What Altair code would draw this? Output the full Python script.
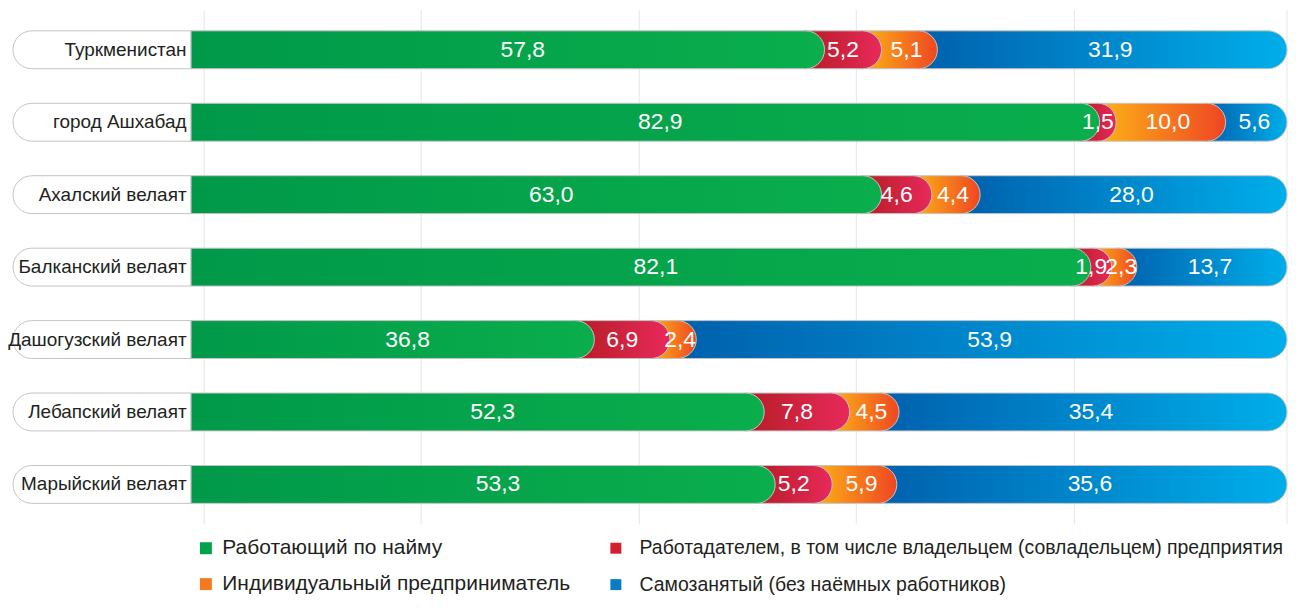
import altair as alt
import pandas as pd

regions = ["Туркменистан", "город Ашхабад", "Ахалский велаят", "Балканский велаят",
           "Дашогузский велаят", "Лебапский велаят", "Марыйский велаят"]
employed = [57.8, 82.9, 63.0, 82.1, 36.8, 52.3, 53.3]
employer = [5.2, 1.5, 4.6, 1.9, 6.9, 7.8, 5.2]
entrepreneur = [5.1, 10.0, 4.4, 2.3, 2.4, 4.5, 5.9]
self_employed = [31.9, 5.6, 28.0, 13.7, 53.9, 35.4, 35.6]
series_names = ["Работающий по найму",
                "Работадателем, в том числе владельцем (совладельцем) предприятия",
                "Индивидуальный предприниматель",
                "Самозанятый (без наёмных работников)"]
legend_colors = ["#00A14B", "#D3202F", "#F47A20", "#0A7CC4"]
gradient_stops = [["#00994A", "#0AAE4C"], ["#B51D25", "#E8295B"],
                  ["#FDB515", "#EF4623"], ["#0060AD", "#00AEEA"]]
grid_values = [1.2, 21.0, 40.9, 60.7, 80.6, 100]
label_dx = [15, -10, -3, -2]

FONT = "Liberation Sans"

rows = []
series = [employed, employer, entrepreneur, self_employed]
for i, r in enumerate(regions):
    start = 0.0
    for k in range(4):
        v = series[k][i]
        end = start + v
        rows.append({"region": r, "k": k, "s": start, "e": end, "mid": (start + end) / 2,
                     "label": f"{v:.1f}".replace(".", ",")})
        start = end
seg = pd.DataFrame(rows)
lab = pd.DataFrame({"region": regions})
grid = pd.DataFrame({"g": grid_values})

xscale = alt.Scale(domain=[-16.43, 100], nice=False, zero=False)
yenc = alt.Y("region:N", sort=regions, axis=None,
             scale=alt.Scale(paddingInner=0.477, paddingOuter=0.289))

grid_layer = alt.Chart(grid).mark_rule(color="#E6E6E6", strokeWidth=1).encode(
    x=alt.X("g:Q", scale=xscale, axis=None))

pill = alt.Chart(lab).mark_bar(fill="white", stroke="#C4C4C4", strokeWidth=1,
                               cornerRadiusTopLeft=19, cornerRadiusBottomLeft=19).encode(
    x=alt.X(datum=-16.25, scale=xscale, axis=None), x2=alt.X2(datum=0), y=yenc)

pill_text = alt.Chart(lab).mark_text(align="right", dx=-4.5, font=FONT, fontSize=19,
                                     color="#231F20").encode(
    x=alt.X(datum=0, scale=xscale, axis=None), y=yenc, text="region:N")


def grad(stops):
    return alt.Gradient(gradient="linear", x1=0, x2=1, y1=0, y2=0,
                        stops=[alt.GradientStop(color=stops[0], offset=0),
                               alt.GradientStop(color=stops[1], offset=1)])


bar_layers = []
for k in [3, 2, 1, 0]:
    props = dict(fill=grad(gradient_stops[k]), stroke="#C4C4C4", strokeWidth=1,
                 cornerRadiusTopRight=19, cornerRadiusBottomRight=19)
    if k > 0:
        props["xOffset"] = -20
    bar_layers.append(
        alt.Chart(seg).transform_filter(f"datum.k == {k}").mark_bar(**props).encode(
            x=alt.X("s:Q", scale=xscale, axis=None), x2="e:Q", y=yenc))

text_layers = []
for k in range(4):
    text_layers.append(
        alt.Chart(seg).transform_filter(f"datum.k == {k}").mark_text(
            font=FONT, fontSize=23, color="white", dx=label_dx[k]).encode(
            x=alt.X("mid:Q", scale=xscale, axis=None), y=yenc, text="label:N"))

legend_df = pd.DataFrame({"name": series_names})
leg_a = alt.Chart(legend_df).transform_filter("false").mark_square().encode(
    color=alt.Color("name:N",
                    scale=alt.Scale(domain=[series_names[0], series_names[2]],
                                    range=[legend_colors[0], legend_colors[2]]),
                    legend=alt.Legend(orient="none", legendX=185, legendY=529.5,
                                      title=None, symbolType="square", symbolSize=144,
                                      symbolStrokeWidth=0, symbolOpacity=1,
                                      labelFont=FONT, labelFontSize=21,
                                      labelColor="#231F20", labelOffset=6,
                                      labelLimit=1000, rowPadding=14, padding=0)))
leg_b = alt.Chart(legend_df).transform_filter("false").mark_square().encode(
    fill=alt.Fill("name:N",
                  scale=alt.Scale(domain=[series_names[1], series_names[3]],
                                  range=[legend_colors[1], legend_colors[3]]),
                  legend=alt.Legend(orient="none", legendX=597, legendY=530.25,
                                    title=None, symbolType="square", symbolSize=121,
                                    symbolStrokeWidth=0, symbolOpacity=1,
                                    labelFont=FONT, labelFontSize=19.5,
                                    labelColor="#231F20", labelOffset=14,
                                    labelLimit=1000, rowPadding=15.5, padding=0)))

chart = alt.layer(grid_layer, pill, pill_text, *bar_layers, *text_layers,
                  leg_a, leg_b).properties(
    width=1280, height=516, padding=0, background="white"
).configure_view(stroke=None)

chart.save("out.html", embed_options={"renderer": "svg", "actions": False})
